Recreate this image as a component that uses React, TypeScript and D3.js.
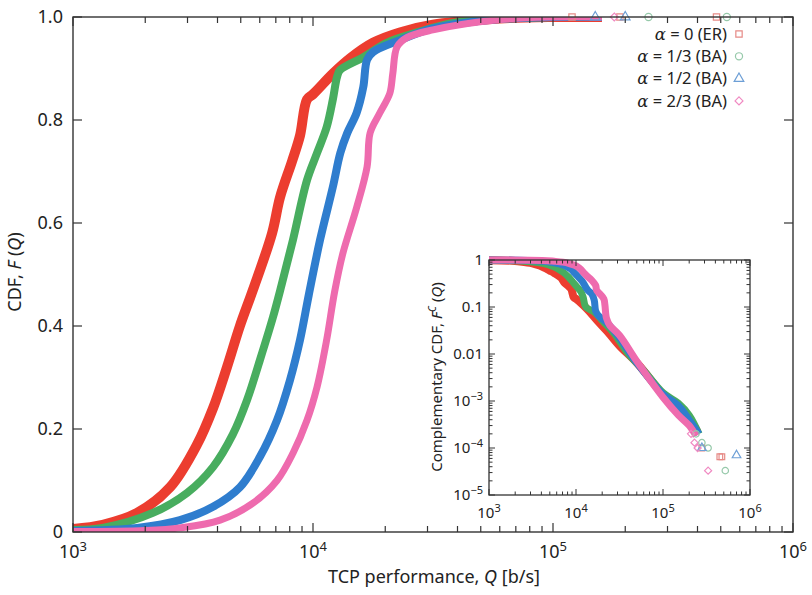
import React from "react";
import * as d3 from "d3";

// CDF of TCP performance, main panel: [Q (b/s), F(Q)]
const cdfER: [number, number][] = [
  [1000, 0.006], [1330, 0.014], [1850, 0.037], [2540, 0.087], [3290, 0.17], [3830, 0.24],
  [4380, 0.32], [4960, 0.4], [5620, 0.47], [6750, 0.58], [7290, 0.65],
  [8180, 0.72], [8830, 0.77], [9440, 0.84], [10000, 0.85], [12100, 0.89], [14300, 0.92],
  [17800, 0.95], [23000, 0.97], [31600, 0.985], [60000, 0.997], [100000, 1], [160000, 1],
];
const cdfBA13: [number, number][] = [
  [1000, 0.004], [1330, 0.008], [2150, 0.037], [2990, 0.076], [3830, 0.126], [4640, 0.19],
  [5310, 0.256], [6010, 0.334], [6810, 0.417], [7400, 0.48], [8250, 0.567], [9440, 0.683],
  [10400, 0.736], [11400, 0.786], [12100, 0.84], [12600, 0.884], [12960, 0.897], [16200, 0.922],
  [20300, 0.95], [27100, 0.97], [40000, 0.99], [100000, 1], [160000, 1],
];
const cdfBA12: [number, number][] = [
  [1000, 0.002], [1850, 0.008], [2790, 0.023], [3830, 0.049], [4960, 0.087], [6010, 0.146],
  [7080, 0.217], [8020, 0.295], [8830, 0.373], [9600, 0.46], [10700, 0.567], [12100, 0.67],
  [13000, 0.736], [13900, 0.775], [15200, 0.814], [16200, 0.864], [16800, 0.917], [17800, 0.932],
  [23000, 0.955], [31600, 0.978], [60000, 0.996], [100000, 1], [160000, 1],
];
const cdfBA23: [number, number][] = [
  [1000, 0.001], [2000, 0.003], [2790, 0.008], [4100, 0.023], [5620, 0.056], [7080, 0.1],
  [8250, 0.153], [9440, 0.217], [10400, 0.282], [11400, 0.373], [12300, 0.466], [13300, 0.54],
  [15200, 0.63], [16800, 0.709], [17300, 0.775], [19000, 0.814], [20900, 0.852], [21500, 0.89],
  [22400, 0.942], [24600, 0.96], [31600, 0.975], [60000, 0.995], [100000, 1], [160000, 1],
];

// largest samples shown on the F = 1 line
const tailER = [120000, 190000, 480000];
const tailBA13 = [250000, 530000];
const tailBA12 = [150000, 200000];
const tailBA23 = [180000];

// complementary CDF, inset: [Q, 1 - F(Q)]
const ccdfER: [number, number][] = [
  [1000, 0.99], [1850, 0.96], [2540, 0.9], [3290, 0.83], [3830, 0.76], [4380, 0.68],
  [4960, 0.6], [5620, 0.53], [6750, 0.42], [7290, 0.34], [8180, 0.28], [8830, 0.24],
  [9440, 0.16], [10000, 0.15], [12100, 0.11], [14300, 0.08], [17800, 0.05], [23000, 0.03],
  [31600, 0.015], [50000, 0.0065], [100000, 0.00135], [150000, 0.0006], [200000, 0.0004],
  [250000, 0.00022],
];
const ccdfBA13: [number, number][] = [
  [1000, 1], [2150, 0.96], [2990, 0.92], [3830, 0.87], [4640, 0.81], [5310, 0.74],
  [6010, 0.67], [6810, 0.58], [7400, 0.52], [8250, 0.43], [9440, 0.32], [10400, 0.26],
  [11400, 0.21], [12100, 0.16], [12960, 0.1], [16200, 0.078], [20300, 0.05], [27100, 0.028],
  [40000, 0.01], [60000, 0.0045], [100000, 0.0015], [150000, 0.0009], [200000, 0.0005],
  [260000, 0.0002],
];
const ccdfBA12: [number, number][] = [
  [1000, 1], [2790, 0.98], [3830, 0.95], [4960, 0.91], [6010, 0.85], [7080, 0.78],
  [8020, 0.7], [8830, 0.63], [9600, 0.53], [10700, 0.43], [12100, 0.33], [13000, 0.26],
  [13900, 0.22], [15200, 0.19], [16200, 0.14], [16800, 0.083], [17800, 0.068], [23000, 0.045],
  [31600, 0.022], [50000, 0.0065], [100000, 0.0014], [150000, 0.0008], [200000, 0.0004],
  [260000, 0.0002],
];
const ccdfBA23: [number, number][] = [
  [1000, 1], [4100, 0.98], [5620, 0.94], [7080, 0.9], [8250, 0.85], [9440, 0.78],
  [10400, 0.72], [11400, 0.63], [12300, 0.53], [13300, 0.46], [15200, 0.37], [16800, 0.29],
  [17300, 0.225], [19000, 0.186], [20900, 0.148], [21500, 0.11], [22400, 0.058], [24600, 0.04],
  [31600, 0.025], [50000, 0.007], [100000, 0.0012], [150000, 0.0005], [200000, 0.0003],
  [240000, 0.00018],
];

const ccdfTailER: [number, number][] = [[280000, 1e-4], [450000, 6.5e-5], [475000, 6.5e-5]];
const ccdfTailBA13: [number, number][] = [[240000, 2e-4], [280000, 1.3e-4], [330000, 1e-4], [520000, 3.3e-5]];
const ccdfTailBA12: [number, number][] = [[280000, 1e-4], [700000, 7e-5]];
const ccdfTailBA23: [number, number][] = [[210000, 2e-4], [230000, 1.3e-4], [250000, 1e-4], [330000, 3.3e-5]];

const seriesLabels = ["0 (ER)", "1/3 (BA)", "1/2 (BA)", "2/3 (BA)"];
const lineColors = ["#ec3d2f", "#48ad5f", "#2f7dce", "#ee6bae"];
const markColors = ["#e68a86", "#96c9aa", "#6d9fd6", "#f08ac2"];
const lineWidths = [10, 8, 8, 7];

const mainTickLabels = ["0", "0.2", "0.4", "0.6", "0.8", "1.0"];
const insetYTicks = ["1", "0.1", "0.01", "-3", "-4", "-5"];

const FONT = "'Noto Sans', 'Open Sans', sans-serif";
const INK = "#222";

const symbols = [
  d3.symbolSquare,
  d3.symbolCircle,
  d3.symbolTriangle,
  (d3 as any).symbolDiamond2 || d3.symbolDiamond,
];

function logTicks(lo: number, hi: number) {
  const out: { v: number; major: boolean }[] = [];
  for (let e = lo; e <= hi; e++) {
    for (let k = 1; k <= 9; k++) {
      const v = k * Math.pow(10, e);
      if (v > Math.pow(10, hi)) break;
      out.push({ v, major: k === 1 });
    }
  }
  return out;
}

function Mark({ i, x, y, size }: { i: number; x: number; y: number; size: number }) {
  const path = d3.symbol().type(symbols[i]).size(size)() || "";
  return (
    <path d={path} transform={`translate(${x},${y})`} fill="none" stroke={markColors[i]} strokeWidth={1.2} />
  );
}

export default function App() {
  const x = d3.scaleLog().domain([1e3, 1e6]).range([73, 793]);
  const y = d3.scaleLinear().domain([0, 1]).range([532, 17]);
  const xi = d3.scaleLog().domain([1e3, 1e6]).range([489, 750]);
  const yi = d3.scaleLog().domain([1e-5, 1]).range([495, 260]);

  const cdfs = [cdfER, cdfBA13, cdfBA12, cdfBA23];
  const tails = [tailER, tailBA13, tailBA12, tailBA23];
  const ccdfs = [ccdfER, ccdfBA13, ccdfBA12, ccdfBA23];
  const ccdfTails = [ccdfTailER, ccdfTailBA13, ccdfTailBA12, ccdfTailBA23];

  const line = d3
    .line<[number, number]>()
    .x((d) => x(d[0]))
    .y((d) => y(d[1]))
    .curve(d3.curveCatmullRom.alpha(0.5));
  const lineI = d3
    .line<[number, number]>()
    .x((d) => xi(d[0]))
    .y((d) => yi(d[1]))
    .curve(d3.curveCatmullRom.alpha(0.5));

  const [x0, x1] = x.range();
  const [y0, y1] = y.range();
  const [ix0, ix1] = xi.range();
  const [iy0, iy1] = yi.range();
  const xt = logTicks(3, 6);
  const yTicks = d3.range(0, 1.0001, 0.2);
  const yit = logTicks(-5, 0);

  return (
    <svg width={812} height={595} style={{ position: "absolute", left: 0, top: 0 }} fontFamily={FONT}>
      <defs>
        <clipPath id="plotClip">
          <rect x={x0} y={y1} width={x1 - x0} height={y0 - y1} />
        </clipPath>
      </defs>
      <rect width={812} height={595} fill="#fff" />

      {/* main curves */}
      <g clipPath="url(#plotClip)">
        {cdfs.map((d, i) => (
          <path key={i} d={line(d) || ""} fill="none" stroke={lineColors[i]} strokeWidth={lineWidths[i]} strokeLinejoin="round" />
        ))}
      </g>
      {tails.map((t, i) =>
        t.map((q, j) => <Mark key={`t${i}-${j}`} i={i} x={x(q)} y={y(1)} size={40} />)
      )}

      {/* main frame and ticks */}
      <rect x={x0} y={y1} width={x1 - x0} height={y0 - y1} fill="none" stroke="#333" strokeWidth={1.4} />
      {xt.map((t, i) => (
        <g key={`xt${i}`} stroke="#333" strokeWidth={1.2}>
          <line x1={x(t.v)} x2={x(t.v)} y1={y0} y2={y0 - (t.major ? 9 : 6)} />
          <line x1={x(t.v)} x2={x(t.v)} y1={y1} y2={y1 + (t.major ? 9 : 6)} />
        </g>
      ))}
      {yTicks.map((v, i) => (
        <g key={`yt${i}`} stroke="#333" strokeWidth={1.2}>
          <line x1={x0} x2={x0 + 9} y1={y(v)} y2={y(v)} />
          <line x1={x1} x2={x1 - 9} y1={y(v)} y2={y(v)} />
        </g>
      ))}
      {yTicks.map((v, i) => (
        <text key={`yl${i}`} x={x0 - 10} y={y(v)} dy="0.35em" textAnchor="end" fontSize={18} fill={INK}>
          {mainTickLabels[i]}
        </text>
      ))}
      {[3, 4, 5, 6].map((e) => (
        <text key={`xl${e}`} x={x(Math.pow(10, e))} y={558} textAnchor="middle" fontSize={18} fill={INK}>
          10<tspan dy={-7} fontSize={13}>{e}</tspan>
        </text>
      ))}
      <text x={434} y={583} textAnchor="middle" fontSize={18} fill={INK}>
        TCP performance, <tspan fontStyle="italic">Q</tspan> [b/s]
      </text>
      <text transform="translate(21,272) rotate(-90)" textAnchor="middle" fontSize={18} fill={INK}>
        CDF, <tspan fontStyle="italic">F</tspan> (<tspan fontStyle="italic">Q</tspan>)
      </text>

      {/* legend */}
      {seriesLabels.map((s, i) => (
        <g key={`lg${i}`}>
          <text x={727} y={34 + i * 22.3} dy="0.35em" textAnchor="end" fontSize={16.5} fill={INK}>
            <tspan fontFamily="'DejaVu Serif', serif" fontStyle="italic">α</tspan> = {s}
          </text>
          <Mark i={i} x={739} y={34 + i * 22.3} size={40} />
        </g>
      ))}

      {/* inset */}
      <rect x={ix0} y={iy1} width={ix1 - ix0} height={iy0 - iy1} fill="#fff" />
      {ccdfs.map((d, i) => (
        <path key={`c${i}`} d={lineI(d) || ""} fill="none" stroke={lineColors[i]} strokeWidth={i === 0 ? 8 : 7} strokeLinejoin="round" />
      ))}
      {ccdfTails.map((t, i) =>
        t.map((p, j) => <Mark key={`ct${i}-${j}`} i={i} x={xi(p[0])} y={yi(p[1])} size={32} />)
      )}
      <rect x={ix0} y={iy1} width={ix1 - ix0} height={iy0 - iy1} fill="none" stroke="#333" strokeWidth={1.3} />
      {xt.map((t, i) => (
        <g key={`ixt${i}`} stroke="#333" strokeWidth={1}>
          <line x1={xi(t.v)} x2={xi(t.v)} y1={iy0} y2={iy0 - (t.major ? 6 : 3.5)} />
          <line x1={xi(t.v)} x2={xi(t.v)} y1={iy1} y2={iy1 + (t.major ? 6 : 3.5)} />
        </g>
      ))}
      {yit.map((t, i) => (
        <g key={`iyt${i}`} stroke="#333" strokeWidth={1}>
          <line x1={ix0} x2={ix0 + (t.major ? 6 : 3.5)} y1={yi(t.v)} y2={yi(t.v)} />
          <line x1={ix1} x2={ix1 - (t.major ? 6 : 3.5)} y1={yi(t.v)} y2={yi(t.v)} />
        </g>
      ))}
      {insetYTicks.map((s, i) => (
        <text key={`iyl${i}`} x={ix0 - 6} y={yi(Math.pow(10, -i))} dy="0.35em" textAnchor="end" fontSize={15} fill={INK}>
          {s.startsWith("-") ? (
            <>
              10<tspan dy={-6} fontSize={11}>{"\u2212" + s.slice(1)}</tspan>
            </>
          ) : (
            s
          )}
        </text>
      ))}
      {[3, 4, 5, 6].map((e) => (
        <text key={`ixl${e}`} x={xi(Math.pow(10, e))} y={518} textAnchor="middle" fontSize={15} fill={INK}>
          10<tspan dy={-6} fontSize={11}>{e}</tspan>
        </text>
      ))}
      <text transform="translate(442,377) rotate(-90)" textAnchor="middle" fontSize={15} fill={INK}>
        Complementary CDF, <tspan fontStyle="italic">F</tspan>
        <tspan dy={-6} fontSize={10} fontStyle="italic">C</tspan>
        <tspan dy={6}> (</tspan>
        <tspan fontStyle="italic">Q</tspan>)
      </text>
    </svg>
  );
}
